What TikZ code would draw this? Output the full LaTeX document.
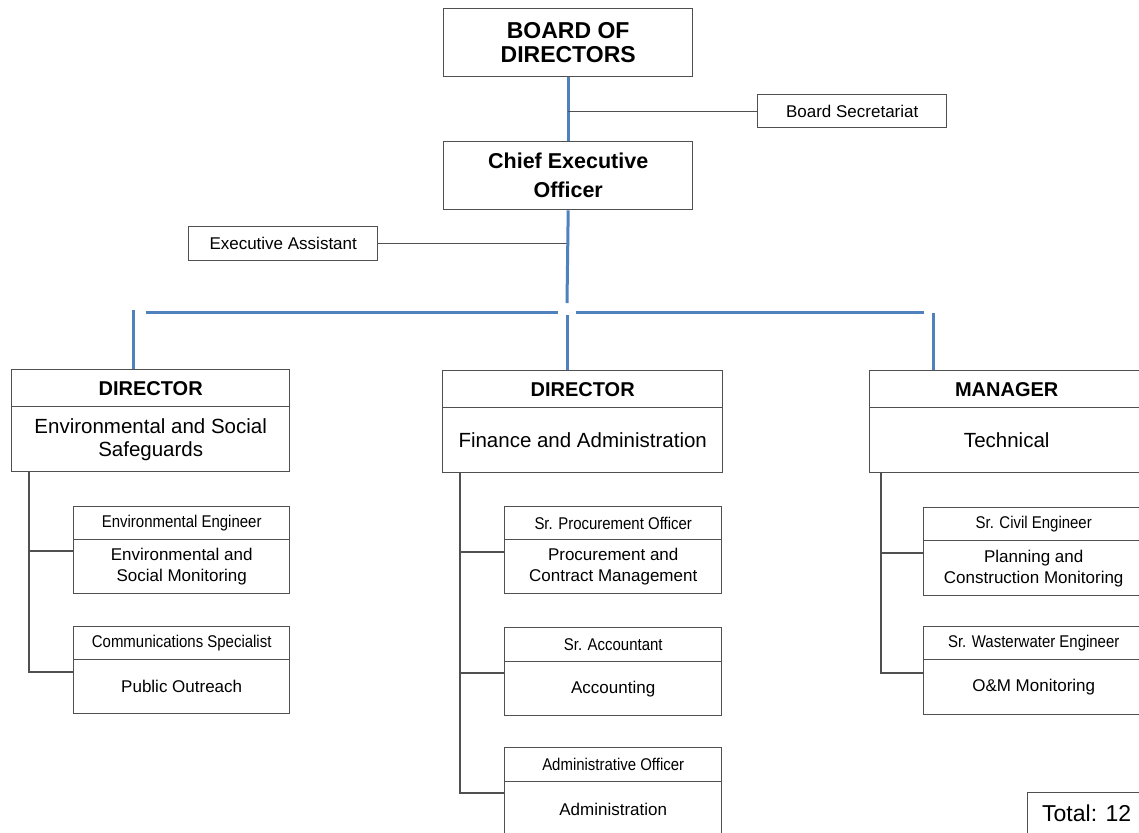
\documentclass[tikz,border=0pt]{standalone}
\usepackage{fontspec}
\setmainfont{Liberation Sans}
\newfontfamily\narrowfont{Liberation Sans}[FakeStretch=0.88]
\definecolor{linkblue}{HTML}{4F81BD}
\definecolor{framegray}{HTML}{505050}
\begin{document}
\begin{tikzpicture}[x=1pt,y=-1pt,
  box/.style={draw=framegray, line width=1.4pt, fill=white, inner sep=0pt,
              align=center, anchor=north west},
  toptitle/.style={box, font=\bfseries\fontsize{23}{24}\selectfont},
  ceotitle/.style={box, font=\bfseries\fontsize{21.5}{29}\selectfont},
  aide/.style={box, font=\fontsize{17}{20}\selectfont},
  unithead/.style={box, font=\bfseries\fontsize{20}{23}\selectfont},
  unitbody/.style={box, font=\fontsize{20.5}{23}\selectfont},
  posthead/.style={box, font=\narrowfont\fontsize{17}{20}\selectfont},
  postbody/.style={box, font=\fontsize{17}{21}\selectfont},
  trunk/.style={draw=linkblue, line width=3pt},
  branch/.style={draw=framegray, line width=1.3pt}
]
\clip (0,0) rectangle (1139,832);
\fill[white] (0,0) rectangle (1139,832);

% ---------- top of the hierarchy ----------
\node[toptitle, minimum width=249pt, minimum height=68pt] (board) at (443,8)
  {BOARD OF\\DIRECTORS};
\node[aide, minimum width=189pt, minimum height=33pt] (sec) at (757,94)
  {Board Secretariat};
\node[ceotitle, minimum width=249pt, minimum height=68pt] (ceo) at (443,141)
  {Chief Executive\\Officer};
\node[aide, minimum width=189pt, minimum height=34pt] (ea) at (188,226)
  {Executive Assistant};

% ---------- unit heads ----------
\node[unithead, minimum width=278pt, minimum height=37pt] (esh) at (11,369) {DIRECTOR};
\node[unitbody, minimum width=278pt, minimum height=65pt] (esb) at (11,406)
  {Environmental and Social\\Safeguards};
\node[unithead, minimum width=280pt, minimum height=37pt] (fah) at (442,370) {DIRECTOR};
\node[unitbody, minimum width=280pt, minimum height=65pt] (fab) at (442,407)
  {Finance and Administration};
\node[unithead, minimum width=274pt, minimum height=37pt] (teh) at (869,370) {MANAGER};
\node[unitbody, minimum width=274pt, minimum height=65pt] (teb) at (869,407)
  {Technical};

% ---------- staff positions ----------
\node[posthead, minimum width=216pt, minimum height=33pt] (eeh) at (73,506) {Environmental Engineer};
\node[postbody, minimum width=216pt, minimum height=54pt] (eeb) at (73,539)
  {Environmental and\\Social Monitoring};
\node[posthead, minimum width=216pt, minimum height=33pt] (csh) at (73,626) {Communications Specialist};
\node[postbody, minimum width=216pt, minimum height=54pt] (csb) at (73,659) {Public Outreach};

\node[posthead, minimum width=217pt, minimum height=33pt] (poh) at (504,506) {Sr. Procurement Officer};
\node[postbody, minimum width=217pt, minimum height=54pt] (pob) at (504,539)
  {Procurement and\\Contract Management};
\node[posthead, minimum width=217pt, minimum height=34pt] (sah) at (504,627) {Sr. Accountant};
\node[postbody, minimum width=217pt, minimum height=54pt] (sab) at (504,661) {Accounting};
\node[posthead, minimum width=217pt, minimum height=34pt] (aoh) at (504,747) {Administrative Officer};
\node[postbody, minimum width=217pt, minimum height=56pt] (aob) at (504,781) {Administration};

\node[posthead, minimum width=220pt, minimum height=33pt] (ceh) at (923,507) {Sr. Civil Engineer};
\node[postbody, minimum width=220pt, minimum height=55pt] (ceb) at (923,540)
  {Planning and\\Construction Monitoring};
\node[posthead, minimum width=220pt, minimum height=33pt] (wwh) at (923,626) {Sr. Wasterwater Engineer};
\node[postbody, minimum width=220pt, minimum height=55pt] (wwb) at (923,659) {O\&M Monitoring};

\node[box, font=\fontsize{23}{23}\selectfont, minimum width=118pt, minimum height=42pt]
  (total) at (1027,792) {Total: 12};

% ---------- reporting lines: board, CEO and assistants ----------
\coordinate (hub) at (567,303);
\draw[trunk] (board.south) -- (ceo.north);
\draw[branch] (sec.west) -- (sec.west -| board.south);
\draw[branch] (ea.east) -- (ea.east -| ceo.south);
\draw[trunk] (ceo.south) -- (hub);

% ---------- distribution bar to the three units ----------
\coordinate (barL) at (146,312);
\coordinate (barM1) at (558,312);
\coordinate (barM2) at (576,312);
\coordinate (barR) at (924,312);
\coordinate (dropL) at (133,310);
\coordinate (dropM) at (567,315);
\coordinate (dropR) at (933,313);
\draw[trunk] (barL) -- (barM1);
\draw[trunk] (barM2) -- (barR);
\draw[trunk] (dropL) -- (dropL |- esh.north);
\draw[trunk] (dropM) -- (dropM |- fah.north);
\draw[trunk] (dropR) -- (dropR |- teh.north);

% ---------- staff lines under each unit ----------
\coordinate (esT) at (29,471);
\coordinate (es1) at (29,551);
\coordinate (es2) at (29,672);
\draw[branch] (esT) -- (es2) -- (es2 -| csb.west);
\draw[branch] (es1) -- (es1 -| eeb.west);

\coordinate (faT) at (460,472);
\coordinate (fa1) at (460,552);
\coordinate (fa2) at (460,673);
\coordinate (fa3) at (460,793);
\draw[branch] (faT) -- (fa3) -- (fa3 -| aob.west);
\draw[branch] (fa1) -- (fa1 -| pob.west);
\draw[branch] (fa2) -- (fa2 -| sab.west);

\coordinate (teT) at (881,472);
\coordinate (te1) at (881,553);
\coordinate (te2) at (881,673);
\draw[branch] (teT) -- (te2) -- (te2 -| wwb.west);
\draw[branch] (te1) -- (te1 -| ceb.west);
\end{tikzpicture}
\end{document}
